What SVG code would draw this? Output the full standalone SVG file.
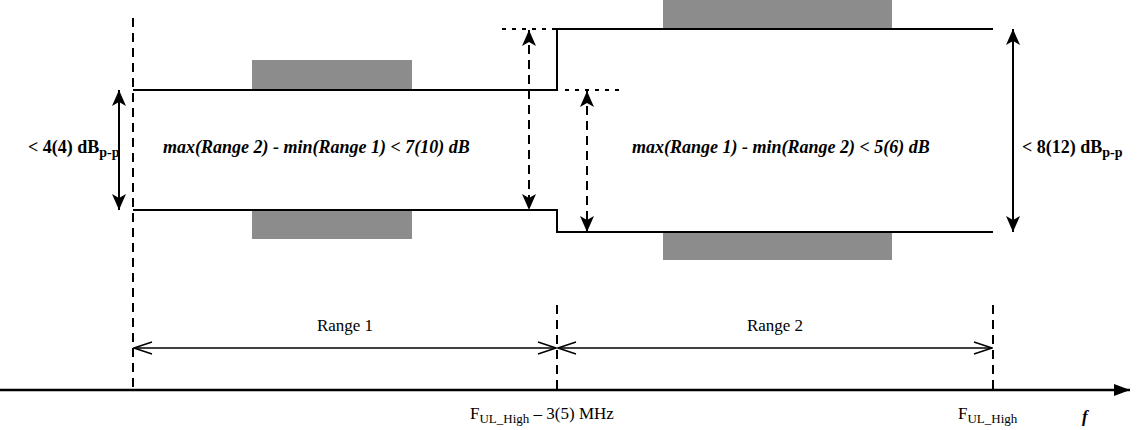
<svg xmlns="http://www.w3.org/2000/svg" width="1143" height="430" viewBox="0 0 1143 430">
<style>
.ln{stroke:#000;stroke-width:2;fill:none}
.dash{stroke:#000;stroke-width:2;fill:none;stroke-dasharray:9,6}
.dot{stroke:#000;stroke-width:2;fill:none;stroke-dasharray:4,6}
.gb{fill:#8c8c8c}
.t{font-family:"Liberation Serif",serif;font-size:17px}
.b{font-weight:bold;font-size:18px}
.bi{font-weight:bold;font-style:italic;font-size:18px}
</style>
<defs>
<marker id="ah" viewBox="0 0 16 14" refX="16" refY="7" markerWidth="16" markerHeight="14" markerUnits="userSpaceOnUse" orient="auto-start-reverse"><path d="M0,0L16,7L0,14L4,7Z" fill="#000"/></marker>
<marker id="oa" viewBox="0 0 20 14" refX="19" refY="7" markerWidth="20" markerHeight="14" markerUnits="userSpaceOnUse" orient="auto-start-reverse"><path d="M1,1L19,7L1,13" fill="none" stroke="#000" stroke-width="1.5"/></marker>
<marker id="ax" viewBox="0 0 16 12" refX="16" refY="6" markerWidth="16" markerHeight="12" markerUnits="userSpaceOnUse"><path d="M0,0L16,6L0,12Z" fill="#000"/></marker>
</defs>
<g id="masks">
<rect class="gb" x="252" y="60" width="160" height="30"/>
<rect class="gb" x="252" y="210" width="160" height="29"/>
<rect class="gb" x="663" y="0" width="229" height="29"/>
<rect class="gb" x="663" y="232" width="229" height="28"/>
</g>
<g id="limits">
<path class="ln" d="M133,90H557V29H993"/>
<path class="ln" d="M133,210H557V232H993"/>
<path class="dot" d="M502,29H557"/>
<path class="dot" d="M565,90H620"/>
</g>
<g id="connectors">
<line class="dash" x1="133" y1="18" x2="133" y2="390"/>
<line class="dash" x1="557" y1="305" x2="557" y2="390"/>
<line class="dash" x1="993" y1="305" x2="993" y2="390"/>
<line class="ln" x1="119" y1="90" x2="119" y2="210" marker-start="url(#ah)" marker-end="url(#ah)"/>
<line class="ln" x1="1013" y1="29" x2="1013" y2="232" marker-start="url(#ah)" marker-end="url(#ah)"/>
<line class="dash" x1="529" y1="30" x2="529" y2="210" marker-start="url(#ah)" marker-end="url(#ah)"/>
<line class="dash" x1="587" y1="91" x2="587" y2="232" marker-start="url(#ah)" marker-end="url(#ah)"/>
<line stroke="#000" stroke-width="1.5" x1="134" y1="348" x2="556" y2="348" marker-start="url(#oa)" marker-end="url(#oa)"/>
<line stroke="#000" stroke-width="1.5" x1="558" y1="348" x2="992" y2="348" marker-start="url(#oa)" marker-end="url(#oa)"/>
<line stroke="#000" stroke-width="2.5" x1="0" y1="390" x2="1130" y2="390" marker-end="url(#ax)"/>
</g>
<g id="labels">
<text class="t b" x="28" y="153">&lt; 4(4) dB<tspan baseline-shift="-30%" font-size="14">p-p</tspan></text>
<text class="t b" x="1022" y="153">&lt; 8(12) dB<tspan baseline-shift="-30%" font-size="14">p-p</tspan></text>
<text class="t bi" x="163" y="153">max(Range 2) - min(Range 1) &lt; 7(10) dB</text>
<text class="t bi" x="632" y="153">max(Range 1) - min(Range 2) &lt; 5(6) dB</text>
<text class="t" x="345" y="331" text-anchor="middle">Range 1</text>
<text class="t" x="775" y="331" text-anchor="middle">Range 2</text>
<text class="t" x="470" y="419">F<tspan baseline-shift="-30%" font-size="13">UL_High</tspan> – 3(5) MHz</text>
<text class="t" x="958" y="419">F<tspan baseline-shift="-30%" font-size="13">UL_High</tspan></text>
<text class="t" x="1082" y="422" font-style="italic" font-weight="bold">f</text>
</g>
</svg>
